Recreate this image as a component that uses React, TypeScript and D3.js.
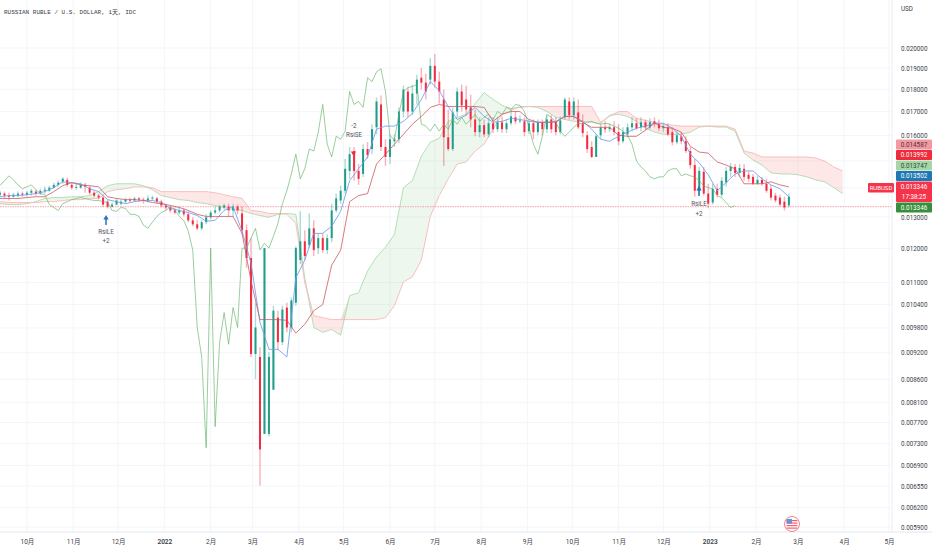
import React, { useEffect, useRef } from "react";
import * as d3 from "d3";

const width = 932;
const height = 550;
const plotRight = 892;
const axisY = 532;

// prices are in thousandths of a dollar
const candleOpen = [
  13.76, 13.8, 13.73, 13.69, 13.73, 13.8, 13.76, 13.83, 13.87, 13.8,
  13.9, 13.9, 14.01, 14.11, 14.22, 14.29, 14.11, 14.01, 14.01, 14.11,
  14.01, 13.83, 13.73, 13.66, 13.52, 13.35, 13.42, 13.45, 13.52, 13.59,
  13.56, 13.63, 13.59, 13.56, 13.63, 13.63, 13.52, 13.39, 13.32, 13.22,
  13.15, 13.22, 13.09, 12.89, 12.76, 12.63, 12.83, 12.99, 13.15, 13.22,
  13.32, 13.35, 13.22, 13.35, 13.12, 12.57, 11.71, 9.17, 9.1, 7.48,
  7.48, 8.37, 10.06, 9.45, 10.32, 9.81, 10.45, 11.65, 12.22, 12.1,
  12.63, 12.01, 12.32, 11.95, 12.32, 13.22, 13.56, 13.9, 14.62, 15.38,
  14.62, 14.51, 15.46, 15.46, 16.34, 17.32, 15.54, 15.15, 15.77, 15.85,
  17.01, 17.9, 17.01, 17.81, 18.54, 18.31, 18.45, 19.11, 18.36, 17.54,
  15.93, 15.46, 17.01, 17.9, 17.54, 17.19, 16.67, 16.14, 16.43, 16.05,
  16.51, 16.26, 16.55, 16.26, 16.51, 16.76, 16.59, 16.59, 16.18, 16.51,
  16.14, 16.55, 16.26, 16.67, 16.59, 16.14, 16.76, 17.45, 16.85, 16.97,
  16.51, 16.01, 15.54, 15.15, 16.01, 16.34, 16.26, 16.34, 16.14, 15.77,
  16.05, 16.34, 16.51, 16.34, 16.55, 16.34, 16.59, 16.47, 16.3, 16.34,
  16.14, 15.73, 15.97, 15.77, 15.38, 14.84, 13.9, 14.59, 13.8, 13.49,
  13.97, 13.76, 14.19, 14.62, 14.77, 14.55, 14.7, 14.48, 14.4, 14.15,
  14.29, 14.15, 13.97, 13.73, 13.66, 13.52, 13.39,
];
const candleClose = [
  13.83, 13.73, 13.69, 13.76, 13.8, 13.76, 13.83, 13.9, 13.8, 13.9,
  13.94, 14.01, 14.11, 14.19, 14.33, 14.11, 14.01, 14.04, 14.11, 14.04,
  13.83, 13.73, 13.66, 13.42, 13.35, 13.42, 13.56, 13.52, 13.59, 13.56,
  13.63, 13.59, 13.56, 13.63, 13.66, 13.52, 13.39, 13.32, 13.22, 13.15,
  13.22, 13.09, 12.89, 12.76, 12.63, 12.83, 12.99, 13.15, 13.22, 13.35,
  13.39, 13.22, 13.35, 13.22, 12.57, 11.71, 9.17, 9.81, 7.19, 12.01,
  9.1, 10.24, 9.45, 10.27, 9.81, 10.51, 12.01, 12.22, 11.77, 12.63,
  11.95, 12.32, 11.95, 12.32, 13.22, 13.63, 13.9, 14.7, 15.26, 14.62,
  14.33, 15.46, 15.22, 16.26, 17.45, 15.54, 15.15, 15.85, 15.85, 17.01,
  17.99, 17.01, 17.81, 18.45, 18.31, 17.9, 19.11, 18.36, 17.9, 15.93,
  15.46, 16.97, 17.9, 17.28, 17.1, 16.67, 16.14, 16.43, 16.05, 16.51,
  16.26, 16.55, 16.26, 16.51, 16.8, 16.59, 16.63, 16.14, 16.51, 16.14,
  16.55, 16.26, 16.67, 16.26, 16.14, 16.63, 17.54, 16.85, 17.45, 16.34,
  16.1, 15.46, 15.15, 15.97, 16.34, 16.26, 16.34, 16.14, 15.77, 16.14,
  16.34, 16.51, 16.3, 16.55, 16.34, 16.55, 16.47, 16.3, 16.39, 16.05,
  15.73, 16.01, 15.77, 15.38, 14.84, 13.9, 14.62, 13.8, 13.45, 13.97,
  13.76, 14.26, 14.62, 14.77, 14.55, 14.73, 14.4, 14.33, 14.15, 14.29,
  14.15, 13.9, 13.66, 13.56, 13.42, 13.32, 13.69,
];
const candleHigh = [
  13.9, 13.87, 13.83, 13.83, 13.87, 13.87, 13.9, 13.97, 13.94, 13.97,
  14.04, 14.08, 14.19, 14.26, 14.4, 14.37, 14.19, 14.15, 14.19, 14.19,
  14.08, 13.9, 13.8, 13.73, 13.59, 13.49, 13.63, 13.59, 13.66, 13.66,
  13.69, 13.69, 13.66, 13.73, 13.73, 13.69, 13.59, 13.45, 13.39, 13.32,
  13.35, 13.29, 13.19, 12.99, 12.89, 12.89, 13.09, 13.22, 13.35, 13.42,
  13.45, 13.45, 13.45, 13.42, 13.35, 12.76, 12.32, 10.45, 9.33, 12.01,
  9.21, 10.37, 10.24, 10.37, 10.45, 10.59, 12.07, 13.19, 12.57, 13.12,
  12.89, 12.47, 12.47, 12.44, 13.45, 13.8, 14.08, 15.07, 15.54, 15.54,
  14.88, 15.65, 15.73, 16.47, 17.63, 17.72, 15.85, 16.05, 16.05, 17.19,
  18.17, 18.08, 18.22, 18.68, 19.01, 18.73, 19.5, 19.7, 18.82, 17.99,
  17.1, 17.19, 18.08, 18.22, 18.17, 17.76, 17.1, 16.76, 16.67, 16.76,
  16.76, 16.76, 16.8, 16.67, 17.1, 17.01, 16.85, 16.76, 16.67, 16.67,
  16.67, 16.67, 16.85, 16.85, 16.76, 16.8, 17.63, 17.63, 17.63, 17.54,
  16.89, 16.18, 15.77, 16.05, 16.47, 16.59, 16.51, 16.59, 16.47, 16.34,
  16.51, 16.76, 16.72, 16.76, 16.67, 16.72, 16.76, 16.67, 16.51, 16.51,
  16.34, 16.18, 16.14, 15.97, 15.54, 15.07, 14.77, 14.77, 14.15, 14.15,
  14.15, 14.4, 14.77, 14.92, 14.88, 14.88, 14.88, 14.62, 14.51, 14.44,
  14.4, 14.33, 14.11, 13.83, 13.76, 13.69, 13.8,
];
const candleLow = [
  13.69, 13.63, 13.56, 13.66, 13.66, 13.69, 13.69, 13.73, 13.73, 13.76,
  13.8, 13.87, 13.97, 14.04, 14.15, 14.04, 13.94, 13.94, 13.97, 13.83,
  13.76, 13.66, 13.59, 13.35, 13.29, 13.32, 13.39, 13.39, 13.45, 13.49,
  13.52, 13.52, 13.45, 13.49, 13.56, 13.45, 13.32, 13.22, 13.15, 13.09,
  13.09, 13.02, 12.83, 12.7, 12.57, 12.57, 12.76, 12.92, 13.09, 13.15,
  13.25, 13.02, 13.02, 13.09, 12.44, 11.42, 9.1, 8.6, 6.56, 7.48,
  7.43, 8.37, 9.26, 9.38, 9.69, 9.69, 10.37, 11.53, 11.65, 12.01,
  11.77, 11.83, 11.86, 11.83, 12.19, 13.15, 13.45, 13.8, 14.33, 14.26,
  14.11, 14.4, 15.07, 15.26, 16.05, 15.38, 14.81, 14.88, 15.54, 15.69,
  16.76, 16.76, 16.85, 17.32, 17.99, 17.54, 18.22, 18.08, 17.36, 14.81,
  15.38, 15.38, 16.76, 17.01, 16.85, 16.34, 15.97, 15.93, 15.93, 15.93,
  16.1, 16.14, 16.1, 16.1, 16.43, 16.47, 16.51, 15.97, 16.05, 15.85,
  16.01, 16.01, 16.1, 16.1, 16.01, 16.05, 16.67, 16.67, 16.67, 16.26,
  15.93, 15.3, 15.11, 15.15, 15.85, 16.1, 16.14, 16.01, 15.61, 15.69,
  15.93, 16.18, 16.22, 16.18, 16.22, 16.26, 16.34, 16.18, 16.14, 15.97,
  15.61, 15.65, 15.65, 15.3, 14.7, 13.69, 13.76, 13.73, 13.29, 13.42,
  13.66, 13.69, 14.04, 14.4, 14.4, 14.4, 14.26, 14.22, 14.11, 14.11,
  14.08, 13.83, 13.56, 13.49, 13.35, 13.22, 13.32,
];
const lagging = [
  14.08, 14.26, 14.44, 14.29, 14.11, 13.97, 14.04, 14.11, 13.94, 13.8,
  13.76, 13.42, 13.32, 13.22, 13.45, 13.52, 13.59, 13.63, 13.66, 13.63,
  13.59, 13.56, 13.56, 13.52, 13.49, 13.22, 13.19, 13.32, 13.29, 13.09,
  13.09, 13.02, 12.73, 12.63, 12.83, 13.02, 13.15, 13.22, 13.35, 13.25,
  13.02, 12.89, 12.54, 11.95, 9.81, 9.1, 7.22, 12.01, 7.62, 9.45,
  10.19, 9.4, 10.32, 9.81, 12.01, 12.01, 12.32, 12.63, 11.95, 12.16,
  12.01, 12.38, 12.79, 13.45, 13.9, 14.51, 15.26, 14.33, 14.7, 15.46,
  15.38, 16.14, 17.32, 15.65, 15.15, 15.97, 15.85, 16.18, 17.9, 17.32,
  17.45, 17.19, 18.54, 18.36, 18.82, 18.97, 17.9, 15.97, 15.85, 16.89,
  17.9, 18.08, 18.13, 18.22, 16.47, 16.39, 16.18, 16.47, 16.18, 16.47,
  16.26, 16.67, 16.47, 16.76, 16.47, 16.67, 16.89, 16.59, 16.76, 16.89,
  16.67, 17.01, 16.89, 17.19, 17.1, 17.32, 17.28, 17.01, 16.34, 15.65,
  15.26, 15.97, 16.89, 16.76, 16.55, 16.18, 15.97, 16.14, 16.34, 16.51,
  16.47, 16.55, 16.59, 16.51, 16.47, 16.51, 16.47, 16.39, 16.3, 16.18,
  16.01, 15.65, 14.99, 14.77, 14.62, 14.4, 14.33, 14.4, 14.4, 14.62,
  14.7, 14.7, 14.44, 14.51, 14.44, 14.4, 14.26, 14.08, 14.01, 13.97,
  13.73, 13.66, 13.49, 13.32, 13.39,
];
const kijun = [
  13.63, 13.63, 13.63, 13.66, 13.69, 13.69, 13.87, 14.08, 14.19, 14.11,
  14.08, 14.04, 13.69, 13.63, 13.59, 13.59, 13.56, 13.49, 13.45, 13.39,
  13.32, 13.22, 13.09, 13.02, 13.02, 13.02, 13.02, 12.47, 11.05, 10.01,
  10.01, 10.01, 9.99, 9.67, 9.89, 10.24, 10.4, 11.5, 11.95, 13.52,
  13.73, 13.8, 14.88, 15.26, 15.65, 16.05, 16.47, 16.8, 17.19, 17.32,
  17.23, 17.23, 17.23, 17.23, 17.19, 16.59, 16.89, 17.01, 17.01, 16.67,
  16.55, 16.55, 16.55, 16.8, 16.8, 16.55, 16.34, 16.34, 16.34, 16.01,
  15.97, 15.97, 16.22, 16.51, 16.34, 16.3, 16.14, 15.57, 15.34, 15.3,
  14.96, 14.84, 14.7, 14.15, 14.15, 14.15, 14.22, 14.11, 14.04,
];
const tenkan = [
  13.69, 13.73, 13.73, 13.76, 13.8, 13.87, 14.01, 14.22, 14.19, 14.15,
  13.97, 13.87, 13.59, 13.52, 13.45, 13.52, 13.56, 13.56, 13.49, 13.29,
  13.22, 13.15, 13.05, 12.86, 12.89, 13.22, 13.35, 12.54, 11.56, 9.94,
  9.28, 9.28, 9.1, 11.13, 11.65, 12.47, 12.47, 12.7, 13.19, 14.26,
  14.7, 15.15, 16.26, 16.39, 16.39, 16.59, 16.93, 17.54, 18.36, 17.94,
  17.23, 16.67, 16.85, 17.19, 16.8, 16.55, 16.59, 16.72, 16.67, 16.59,
  16.55, 16.55, 16.59, 16.8, 16.8, 16.59, 16.26, 15.85, 15.77, 15.97,
  16.14, 16.3, 16.39, 16.51, 16.51, 16.3, 15.97, 15.26, 14.92, 14.48,
  13.9, 14.19, 14.51, 14.62, 14.62, 14.33, 14.11, 13.97, 13.69,
];
const spanA = [
  13.45, 13.42, 13.42, 13.45, 13.52, 13.63, 13.66, 13.66, 13.69, 13.69,
  13.73, 13.87, 14.08, 14.15, 14.15, 14.15, 14.08, 13.94, 13.73, 13.66,
  13.59, 13.56, 13.49, 13.45, 13.39, 13.32, 13.25, 13.22, 13.12, 13.05,
  12.99, 13.09, 13.12, 13.09, 11.13, 9.81, 9.69, 9.76, 9.62, 10.64,
  10.72, 11.33, 11.74, 12.04, 12.44, 14.01, 14.26, 15.18, 15.73, 15.89,
  16.59, 16.76, 16.89, 17.36, 17.85, 17.54, 17.28, 17.14, 17.19, 17.23,
  17.19, 17.01, 16.76, 16.67, 16.59, 16.59, 16.55, 16.5, 16.85, 16.89,
  16.8, 16.59, 16.3, 16.14, 16.05, 16.05, 16.05, 16.14, 16.35, 16.39,
  16.35, 16.35, 16.18, 15.3, 15.03, 14.84, 14.55, 14.51, 14.51, 14.48,
  14.4, 14.29, 14.22, 14.01, 13.8,
];
const spanB = [
  13.52, 13.49, 13.49, 13.49, 13.49, 13.52, 13.52, 13.56, 13.59, 13.59,
  13.63, 13.63, 13.87, 13.94, 13.97, 14.04, 14.04, 14.01, 13.87, 13.87,
  13.87, 13.87, 13.87, 13.87, 13.83, 13.76, 13.69, 13.63, 13.22, 13.19,
  13.12, 13.12, 13.09, 12.79, 10.99, 10.11, 10.06, 10.01, 10.01, 10.01,
  10.01, 10.01, 10.01, 10.06, 10.37, 11.02, 11.16, 11.65, 13.02, 13.73,
  14.33, 14.88, 14.96, 15.38, 15.65, 16.26, 16.89, 17.05, 17.23, 17.23,
  17.23, 17.23, 17.23, 17.23, 17.23, 17.23, 17.23, 16.55, 16.8, 17.01,
  17.01, 16.72, 16.63, 16.55, 16.47, 16.43, 16.39, 16.39, 16.39, 16.39,
  16.39, 16.39, 16.26, 15.38, 15.3, 15.15, 15.15, 15.15, 15.15, 15.15,
  15.15, 15.11, 14.99, 14.77, 14.62,
];

const lastPrice = 13.346;
const priceTicks = [
  20, 19, 18, 17, 16, 15, 14, 13, 12, 11, 10.4, 9.8, 9.2, 8.6, 8.1, 7.7, 7.3,
  6.9, 6.55, 6.2, 5.9,
];
const hiddenPriceLabels = [15, 14];
const monthDates = [
  "2021-10-01", "2021-11-01", "2021-12-01", "2022-01-01", "2022-02-01",
  "2022-03-01", "2022-04-01", "2022-05-01", "2022-06-01", "2022-07-01",
  "2022-08-01", "2022-09-01", "2022-10-01", "2022-11-01", "2022-12-01",
  "2023-01-01", "2023-02-01", "2023-03-01", "2023-04-01", "2023-05-01",
];
const monthLabels = [
  "10月", "11月", "12月", "2022", "2月", "3月", "4月", "5月", "6月", "7月",
  "8月", "9月", "10月", "11月", "12月", "2023", "2月", "3月", "4月", "5月",
];
const badgeText = [
  ["0.014587"], ["0.013992"], ["0.013747"], ["0.013502"],
  ["0.013346", "17:38:25"], ["0.013346"],
];
const badgeFill = ["#f29aa2", "#ef2b3c", "#a5d6a7", "#1f78b4", "#f7334a", "#388e3c"];
const badgeInk = ["#5a3036", "#fff", "#2f4a33", "#fff", "#fff", "#fff"];

const chartStart = new Date(2021, 8, 13);
const chartEnd = new Date(2023, 4, 3);

const up = "#1f9d8a";
const down = "#f5293f";
const labelFont = "Roboto, sans-serif";

function parseDay(s: string) {
  const [y, m, d] = s.split("-").map(Number);
  return new Date(y, m - 1, d);
}

export default function App() {
  const svgRef = useRef<SVGSVGElement>(null);

  useEffect(() => {
    if (!svgRef.current) return;
    const svg = d3.select(svgRef.current);
    svg.selectAll("*").remove();

    const x = d3.scaleTime().domain([chartStart, chartEnd]).range([0, plotRight]);
    const y = d3.scaleLog().domain([20, 5.9]).range([48, 527]);

    // bars sit 3 days apart, the slower lines 6 days apart
    const barDate = (i: number) => d3.timeDay.offset(chartStart, i * 3);
    const lineDate = (i: number) => d3.timeDay.offset(chartStart, i * 6);

    // Grid
    const grid = svg.append("g").attr("stroke", "#f3f5fa").attr("stroke-width", 1);
    grid
      .selectAll("line.h")
      .data(priceTicks)
      .enter()
      .append("line")
      .attr("x1", 0)
      .attr("x2", plotRight)
      .attr("y1", (d) => y(d))
      .attr("y2", (d) => y(d));
    grid
      .selectAll("line.v")
      .data(monthDates)
      .enter()
      .append("line")
      .attr("x1", (d) => x(parseDay(d)))
      .attr("x2", (d) => x(parseDay(d)))
      .attr("y1", 0)
      .attr("y2", axisY);

    // Cloud: one band for each sign of spanA - spanB
    const cloudIdx = d3.range(spanA.length);
    const greenBand = d3
      .area<number>()
      .x((i) => x(lineDate(i)))
      .y0((i) => y(spanB[i]))
      .y1((i) => y(Math.max(spanA[i], spanB[i])));
    const redBand = d3
      .area<number>()
      .x((i) => x(lineDate(i)))
      .y0((i) => y(spanA[i]))
      .y1((i) => y(Math.max(spanA[i], spanB[i])));
    svg.append("path").datum(cloudIdx).attr("fill", "#4caf50").attr("opacity", 0.1).attr("d", greenBand);
    svg.append("path").datum(cloudIdx).attr("fill", "#f44336").attr("opacity", 0.12).attr("d", redBand);

    const drawLine = (vals: number[], at: (i: number) => Date, stroke: string, op: number) => {
      const line = d3
        .line<number>()
        .x((_, i) => x(at(i)))
        .y((d) => y(d));
      svg
        .append("path")
        .datum(vals)
        .attr("fill", "none")
        .attr("stroke", stroke)
        .attr("stroke-width", 1)
        .attr("stroke-linejoin", "round")
        .attr("opacity", op)
        .attr("d", line);
    };
    drawLine(spanA, lineDate, "#a9d8ab", 0.85);
    drawLine(spanB, lineDate, "#f7b9b9", 0.9);

    // Last price line
    svg
      .append("line")
      .attr("x1", 0)
      .attr("x2", plotRight)
      .attr("y1", y(lastPrice))
      .attr("y2", y(lastPrice))
      .attr("stroke", "#f5a0a8")
      .attr("stroke-width", 1)
      .attr("stroke-dasharray", "1.5 1");

    // Candles
    const bars = svg
      .append("g")
      .selectAll("g")
      .data(candleOpen)
      .enter()
      .append("g")
      .attr("fill", (o, i) => (candleClose[i] >= o ? up : down))
      .attr("stroke", (o, i) => (candleClose[i] >= o ? up : down));
    bars
      .append("line")
      .attr("x1", (_, i) => x(barDate(i)))
      .attr("x2", (_, i) => x(barDate(i)))
      .attr("y1", (_, i) => y(candleHigh[i]))
      .attr("y2", (_, i) => y(candleLow[i]))
      .attr("stroke-width", 1.4)
      .attr("opacity", 0.36);
    bars
      .append("rect")
      .attr("x", (_, i) => x(barDate(i)) - 1)
      .attr("width", 2)
      .attr("y", (o, i) => Math.min(y(o), y(candleClose[i])))
      .attr("height", (o, i) => Math.max(1, Math.abs(y(o) - y(candleClose[i]))))
      .attr("stroke", "none");

    drawLine(lagging, barDate, "#5cb060", 0.62);
    drawLine(tenkan, lineDate, "#6f9cf2", 0.85);
    drawLine(kijun, lineDate, "#cc5a60", 0.8);

    // Axes
    svg
      .append("line")
      .attr("x1", 0)
      .attr("x2", width)
      .attr("y1", axisY)
      .attr("y2", axisY)
      .attr("stroke", "#e4e6ef");
    svg
      .append("line")
      .attr("x1", plotRight)
      .attr("x2", plotRight)
      .attr("y1", 0)
      .attr("y2", axisY)
      .attr("stroke", "#eceef4");

    const timeAxis = svg
      .append("g")
      .attr("transform", `translate(0,${axisY})`)
      .call(
        d3
          .axisBottom(x)
          .tickValues(monthDates.map(parseDay))
          .tickSize(0)
          .tickPadding(7)
          .tickFormat((_, i) => monthLabels[i])
      );
    timeAxis.select(".domain").remove();
    timeAxis
      .selectAll("text")
      .attr("fill", "#3c4048")
      .attr("font-family", labelFont + ", 'Noto Sans CJK SC'")
      .attr("font-size", 6.5)
      .attr("font-weight", (_, i) => (monthLabels[i].length === 4 ? 600 : 400));

    const priceAxis = svg
      .append("g")
      .attr("transform", `translate(${plotRight},0)`)
      .call(
        d3
          .axisRight(y)
          .tickValues(priceTicks.filter((t) => !hiddenPriceLabels.includes(t)))
          .tickSize(0)
          .tickPadding(9)
          .tickFormat((d) => ((d as number) / 1000).toFixed(6))
      );
    priceAxis.select(".domain").remove();
    priceAxis
      .selectAll("text")
      .attr("fill", "#3c4048")
      .attr("font-family", labelFont)
      .attr("font-size", 6.3);

    svg
      .append("text")
      .attr("x", 901)
      .attr("y", 11)
      .attr("fill", "#3c4048")
      .attr("font-family", labelFont)
      .attr("font-size", 6.3)
      .text("USD");

    // Title
    svg
      .append("text")
      .attr("x", 4)
      .attr("y", 14)
      .attr("fill", "#3c4048")
      .attr("font-family", "'Liberation Mono', 'Noto Sans CJK SC', monospace")
      .attr("font-size", 6)
      .text("RUSSIAN RUBLE / U.S. DOLLAR, 1天, IDC");

    // Price badges stacked on the axis
    let top = 139.5;
    badgeText.forEach((lines, i) => {
      const h = 10.5 * lines.length;
      svg
        .append("rect")
        .attr("x", 896)
        .attr("y", top)
        .attr("width", 36)
        .attr("height", h - 0.5)
        .attr("rx", 1)
        .attr("fill", badgeFill[i]);
      lines.forEach((t, k) => {
        svg
          .append("text")
          .attr("x", 914)
          .attr("y", top + 7.4 + k * 10)
          .attr("text-anchor", "middle")
          .attr("fill", badgeInk[i])
          .attr("font-family", labelFont)
          .attr("font-size", 6.3)
          .text(t);
      });
      top += h;
    });
    svg.append("rect").attr("x", 868).attr("y", 183).attr("width", 26).attr("height", 9.5).attr("rx", 1).attr("fill", "#f7334a");
    svg
      .append("text")
      .attr("x", 881)
      .attr("y", 190)
      .attr("text-anchor", "middle")
      .attr("fill", "#fff")
      .attr("font-family", labelFont)
      .attr("font-size", 6)
      .text("RUBUSD");

    // Strategy signals
    const note = (px: number, py: number, t: string) =>
      svg
        .append("text")
        .attr("x", px)
        .attr("y", py)
        .attr("text-anchor", "middle")
        .attr("fill", "#50535e")
        .attr("font-family", labelFont)
        .attr("font-size", 6.3)
        .text(t);
    const arrow = d3.symbol().type(d3.symbolTriangle).size(12);
    const upArrow = (px: number, py: number) => {
      svg.append("path").attr("d", arrow).attr("transform", `translate(${px},${py + 2})`).attr("fill", "#2a6fb8");
      svg.append("line").attr("x1", px).attr("x2", px).attr("y1", py + 2).attr("y2", py + 9).attr("stroke", "#2a6fb8").attr("stroke-width", 1.5);
    };
    upArrow(106, 216);
    note(106, 234, "RsiLE");
    note(106, 243, "+2");
    note(354, 128, "-2");
    note(354, 137, "RsiSE");
    svg.append("path").attr("d", arrow).attr("transform", `translate(353.5,153) rotate(180)`).attr("fill", down);
    upArrow(699, 187);
    note(699, 206, "RsiLE");
    note(699, 216, "+2");

    // Flag marker
    const flag = svg.append("g").attr("transform", "translate(792,524)");
    flag.append("circle").attr("r", 7.5).attr("fill", "#fff").attr("stroke", "#f5808c").attr("stroke-width", 1);
    [-4, -1.5, 1, 3.5].forEach((dy) => {
      flag.append("rect").attr("x", -5.5).attr("y", dy).attr("width", 11).attr("height", 1.2).attr("fill", "#f0606e");
    });
    flag.append("rect").attr("x", -5.5).attr("y", -5).attr("width", 5.5).attr("height", 4.5).attr("fill", "#6a93d8");
  }, []);

  return (
    <svg
      ref={svgRef}
      width={width}
      height={height}
      style={{ position: "fixed", left: 0, top: 0, background: "#fff", display: "block" }}
    />
  );
}
